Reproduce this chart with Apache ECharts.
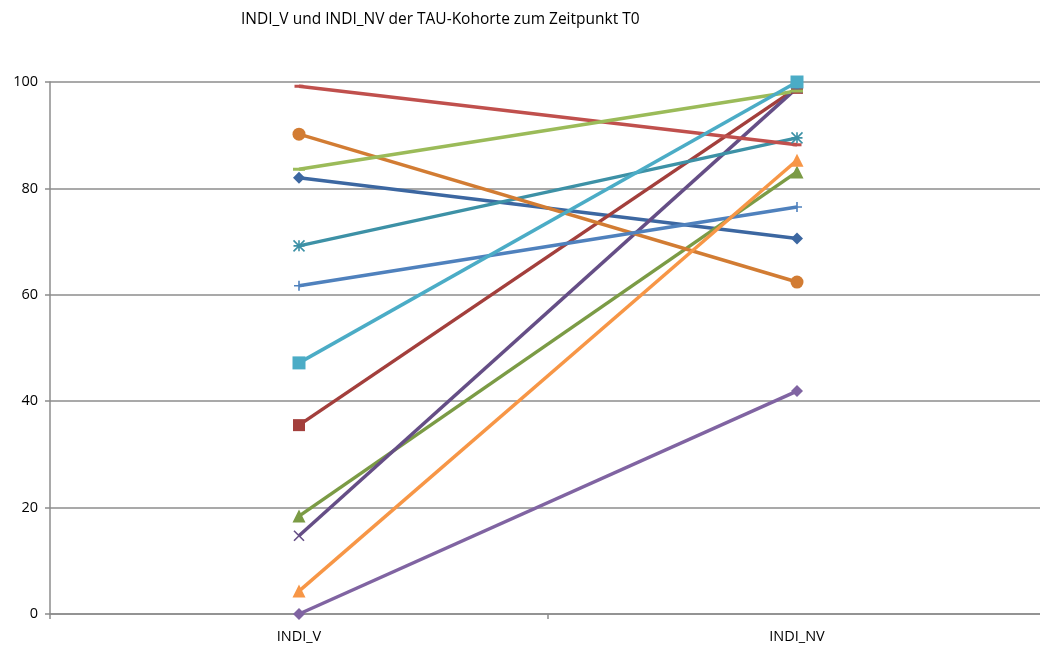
<!DOCTYPE html>
<html>
<head>
<meta charset="utf-8">
<title>INDI_V und INDI_NV der TAU-Kohorte zum Zeitpunkt T0</title>
<script src="https://cdn.jsdelivr.net/npm/echarts@6/dist/echarts.min.js"></script>
<style>
  html, body { margin: 0; padding: 0; background: #ffffff; }
  #chart { width: 1040px; height: 648px; }
</style>
</head>
<body>
<div id="chart"></div>
<script>
// Categories on the x axis
const categories = ['INDI_V', 'INDI_NV'];
const yTicks = [0, 20, 40, 60, 80, 100];

// One pair of values (INDI_V, INDI_NV) per patient
const p1 = [82.0, 70.6];
const p2 = [35.5, 98.9];
const p3 = [18.4, 83.1];
const p4 = [14.7, 98.9];
const p5 = [69.2, 89.5];
const p6 = [90.2, 62.4];
const p7 = [61.7, 76.5];
const p8 = [99.2, 88.2];
const p9 = [83.6, 98.3];
const p10 = [0.0, 41.9];
const p11 = [47.2, 100.0];
const p12 = [4.3, 85.3];

const seriesData = [p1, p2, p3, p4, p5, p6, p7, p8, p9, p10, p11, p12];

// Marker shapes and colours, Office-style cycle
const X_PATH = 'path://M0,0L10,10M10,0L0,10';
const STAR_PATH = 'path://M5,0L5,10M0,0L10,10M10,0L0,10M0,5L10,5';
const PLUS_PATH = 'path://M5,0L5,10M0,5L10,5';
const styles = [
  { color: '#3C67A1', symbol: 'diamond', size: 12 },
  { color: '#A33F3C', symbol: 'rect', size: 12 },
  { color: '#7B9B45', symbol: 'triangle', size: 13 },
  { color: '#654E86', symbol: X_PATH, size: 10, stroke: true },
  { color: '#3D91A6', symbol: STAR_PATH, size: 11, stroke: true },
  { color: '#D27C33', symbol: 'circle', size: 13 },
  { color: '#4F81BD', symbol: PLUS_PATH, size: 10, stroke: true },
  { color: '#C0504D', symbol: 'rect', size: [9, 3] },
  { color: '#9BBB59', symbol: 'rect', size: [12, 3] },
  { color: '#8064A2', symbol: 'diamond', size: 12 },
  { color: '#4BACC6', symbol: 'rect', size: 13 },
  { color: '#F79646', symbol: 'triangle', size: 13 }
];

const FONT = '"Open Sans", "Liberation Sans", sans-serif';

const series = seriesData.map(function (d, i) {
  const s = styles[i];
  return {
    type: 'line',
    data: d,
    symbol: s.symbol,
    symbolSize: s.size,
    lineStyle: { color: s.color, width: 3.5 },
    itemStyle: s.stroke
      ? { color: 'none', borderColor: s.color, borderWidth: 1.6 }
      : { color: s.color, borderWidth: 0 },
    emphasis: { disabled: true },
    animation: false
  };
});

const chart = echarts.init(document.getElementById('chart'), null, { renderer: 'canvas' });
chart.setOption({
  backgroundColor: '#ffffff',
  title: {
    text: 'INDI_V und INDI_NV der TAU-Kohorte zum Zeitpunkt T0',
    left: 236,
    top: 7,
    textStyle: { fontFamily: FONT, fontSize: 15.5, fontWeight: 'normal', color: '#000' }
  },
  // plot area runs slightly past the right edge of the canvas
  grid: { left: 50, width: 996, top: 82, bottom: 34, containLabel: false, outerBoundsMode: 'none' },
  xAxis: {
    type: 'category',
    data: categories,
    boundaryGap: true,
    axisLine: { lineStyle: { color: '#8c8c8c', width: 1.5 } },
    axisTick: { show: true, length: 5, lineStyle: { color: '#8c8c8c', width: 1.5 } },
    axisLabel: { fontFamily: FONT, fontSize: 14.5, color: '#000', margin: 15 }
  },
  yAxis: {
    type: 'value',
    min: yTicks[0],
    max: yTicks[yTicks.length - 1],
    interval: 20,
    axisLine: { show: true, lineStyle: { color: '#8c8c8c', width: 1.5 } },
    axisTick: { show: true, length: 5, lineStyle: { color: '#8c8c8c', width: 1.5 } },
    axisLabel: { fontFamily: FONT, fontSize: 14.5, color: '#000', margin: 12 },
    splitLine: { lineStyle: { color: '#8c8c8c', width: 1.5 } }
  },
  series: series
});
</script>
</body>
</html>
